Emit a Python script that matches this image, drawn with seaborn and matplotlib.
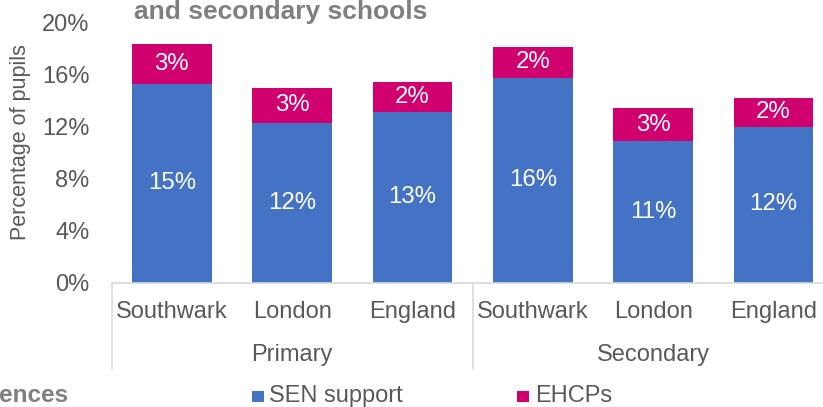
import matplotlib
matplotlib.use("Agg")
import matplotlib.pyplot as plt
import matplotlib.transforms as mtransforms
from matplotlib.patches import Rectangle
import seaborn as sns
import pandas as pd

# ---- data ----
phases = ["Primary", "Primary", "Primary", "Secondary", "Secondary", "Secondary"]
areas = ["Southwark", "London", "England", "Southwark", "London", "England"]
sen_support = [15.25, 12.25, 13.1, 15.7, 10.88, 12.0]
ehcps = [3.1, 2.75, 2.3, 2.45, 2.52, 2.2]
yticks = [0, 4, 8, 12, 16, 20]
group_names = ["Primary", "Secondary"]
series_names = ["SEN support", "EHCPs"]

BLUE = "#4472C4"
PINK = "#D0006F"
TXT = "#595959"
TITLE_C = "#7F7F7F"
LINE_C = "#D9D9D9"

keys = [f"{p}|{a}" for p, a in zip(phases, areas)]
df = pd.DataFrame({
    "key": keys,
    "sen": sen_support,
    "ehcp": ehcps,
})
df["total"] = df["sen"] + df["ehcp"]

sns.set_theme(style="white")
plt.rcParams["font.family"] = ["Liberation Sans", "DejaVu Sans"]

W, H = 823, 407
fig = plt.figure(figsize=(W / 100, H / 100), dpi=100)
ax = fig.add_axes([111.7 / W, (H - 282.5) / H, 722 / W, 260 / H])

sns.barplot(data=df, x="key", y="total", order=keys, color=PINK, saturation=1,
            width=0.66, linewidth=0, errorbar=None, ax=ax)
sns.barplot(data=df, x="key", y="sen", order=keys, color=BLUE, saturation=1,
            width=0.66, linewidth=0, errorbar=None, ax=ax)

ax.set_xlim(-0.5, 5.5)
ax.set_ylim(0, 20)
for s in ax.spines.values():
    s.set_visible(False)
ax.set_xlabel("")
ax.set_ylabel("")
ax.set_xticks([])
ax.set_yticks(yticks, labels=[f"{t}%" for t in yticks])
ax.tick_params(axis="y", length=0, pad=16, labelsize=17, labelcolor=TXT)

# value labels
ax.bar_label(ax.containers[1], labels=[f"{round(v)}%" for v in sen_support],
             label_type="center", color="white", fontsize=17.3)
for i, (s, e) in enumerate(zip(sen_support, ehcps)):
    ax.text(i, s + e / 2, f"{round(e)}%", ha="center", va="center",
            color="white", fontsize=17.3)

# category axis
trans = mtransforms.blended_transform_factory(ax.transData, ax.transAxes)
ax.plot([-0.5, 5.5], [0, 0], transform=trans, color=LINE_C, lw=1.2, clip_on=False)
for x in [-0.5, 2.5, 5.5]:
    ax.plot([x, x], [0, -0.333], transform=trans, color=LINE_C, lw=1.2, clip_on=False)
for i, a in enumerate(areas):
    ax.text(i, -0.1135, a, transform=trans, ha="center", va="center",
            fontsize=17, color=TXT)
for g, name in enumerate(group_names):
    idx = [i for i, p in enumerate(phases) if p == name]
    ax.text(sum(idx) / len(idx), -0.279, name, transform=trans, ha="center",
            va="center", fontsize=17, color=TXT)

# y label
fig.text(21 / W, 1 - 142 / H, "Percentage of pupils", rotation=90,
         ha="center", va="center", fontsize=15.5, color=TXT)

# title fragment (cropped in the original)
fig.text(134 / W, 1 - 18.5 / H, "and secondary schools", ha="left", va="baseline",
         fontsize=19, fontweight="bold", color=TITLE_C)
fig.text(68 / W, 1 - 396 / H, "ences", ha="right", va="center",
         fontsize=17.5, fontweight="bold", color=TITLE_C)

# legend
leg_items = [(252, 269, BLUE, series_names[0]), (517, 535, PINK, series_names[1])]
for sx, tx, c, lab in leg_items:
    fig.patches.append(Rectangle((sx / W, 1 - 402 / H), 11.5 / W, 11.5 / H,
                                 transform=fig.transFigure, color=c, lw=0))
    fig.text(tx / W, 1 - 396 / H, lab, ha="left", va="center", fontsize=17, color=TXT)

fig.savefig("out.png", dpi=100)
